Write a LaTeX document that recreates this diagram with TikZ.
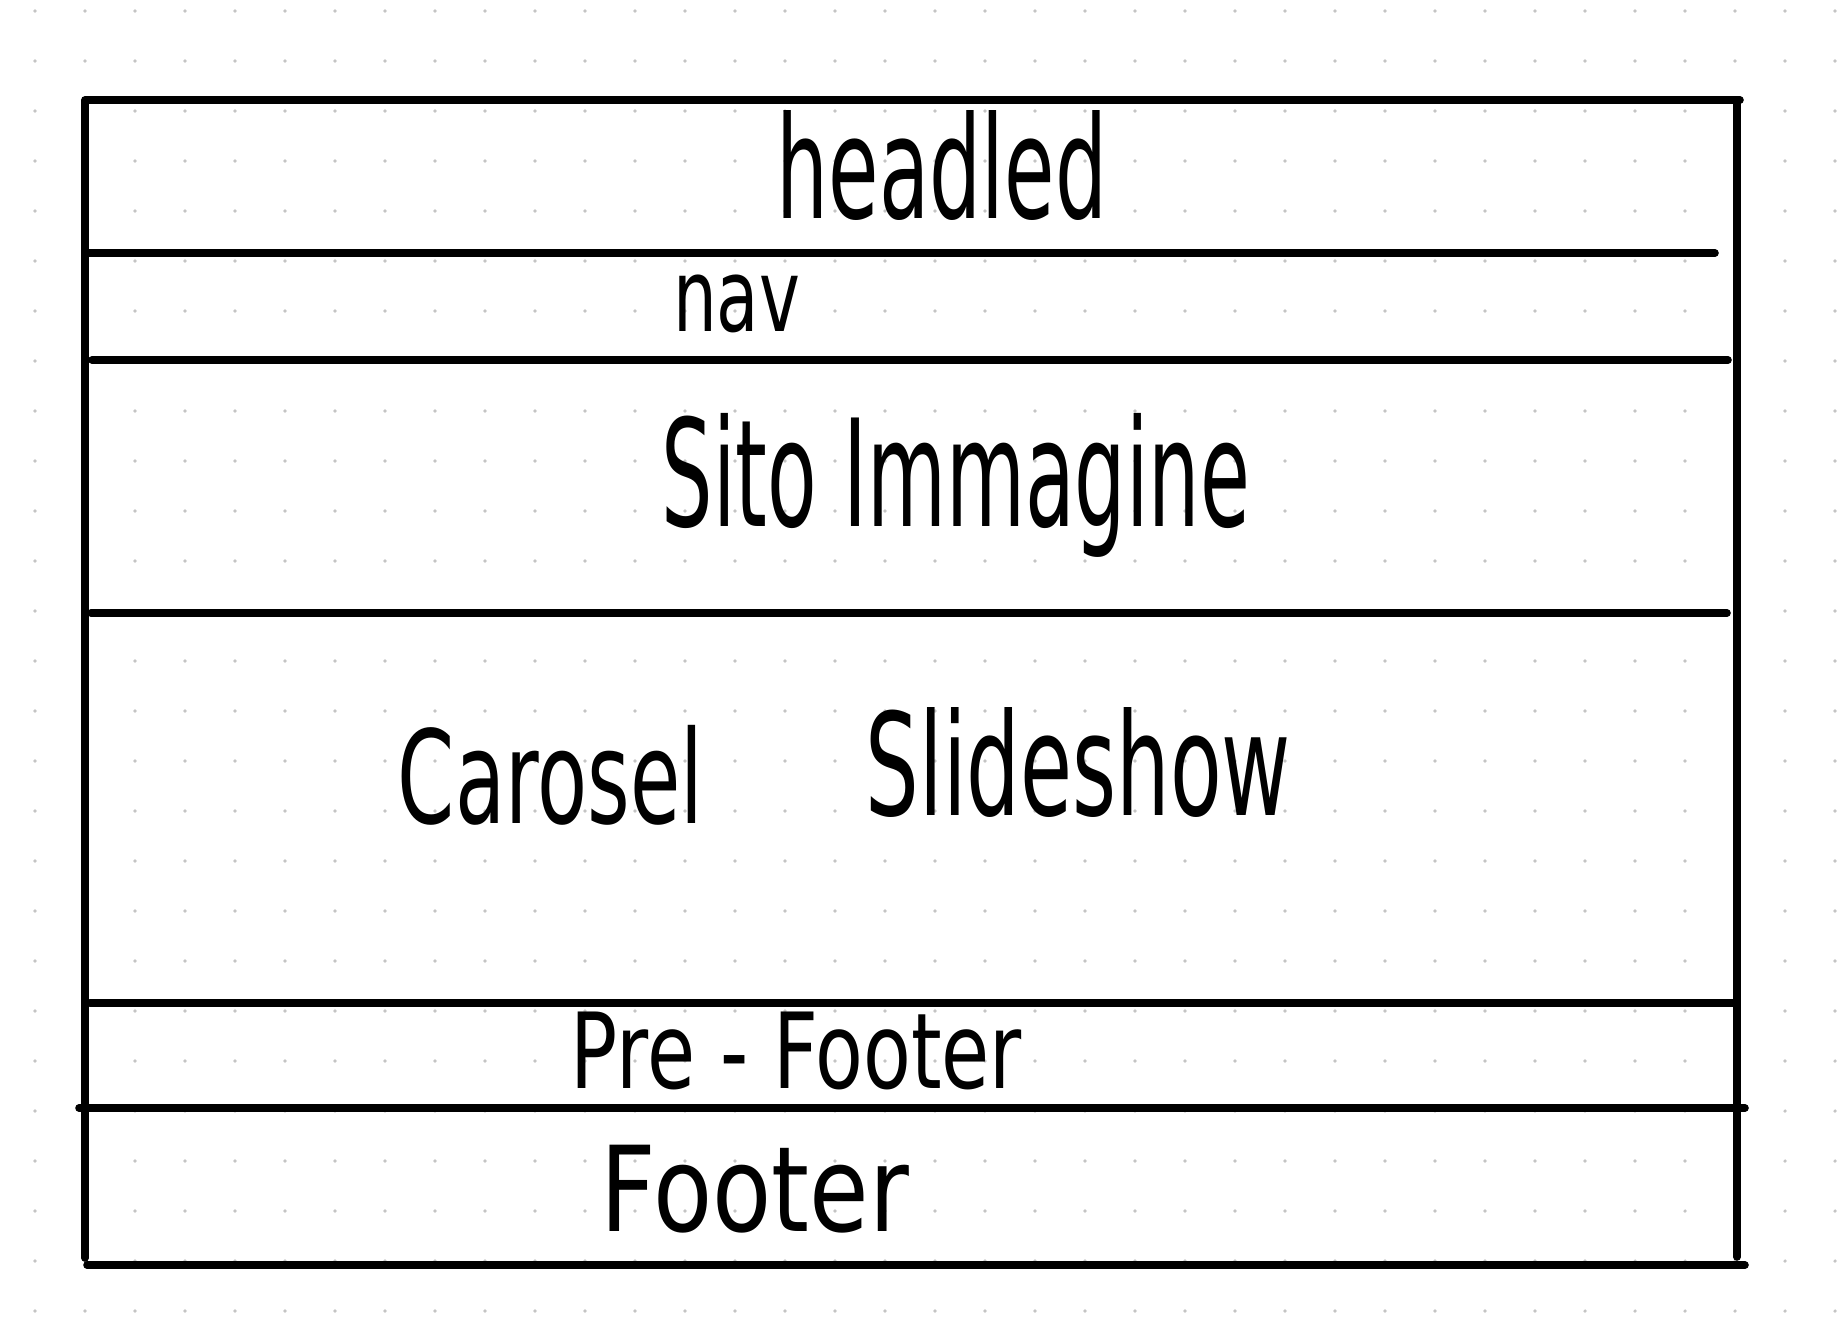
\documentclass[tikz,border=0pt]{standalone}
\usepackage{fontspec}
\setmainfont{DejaVu Sans}
\usepackage{graphicx}
\definecolor{dotc}{RGB}{196,196,196}
\begin{document}
\begin{tikzpicture}[x=0.5pt,y=-0.5pt,
  frame/.style={line width=3.8pt, line cap=round, line join=round},
  lbl/.style={inner sep=0pt, outer sep=0pt}]
\useasboundingbox (0,0) rectangle (1846,1319);
\fill[white] (0,0) rectangle (1846,1319);
% dotted paper
\foreach \i in {0,...,36}{\foreach \j in {0,...,26}{\fill[dotc] ({35+50*\i},{11+50*\j}) circle (1.8);}}
% outer frame
\draw[frame] (85,1258) -- (85,100) -- (1740,100);
\draw[frame] (1737,100) -- (1737,1257);
% section dividers
\draw[frame] (85,253) -- (1715,253);
\draw[frame] (92,360) -- (1728,360);
\draw[frame] (91,613) -- (1727,613);
\draw[frame] (90,1003) -- (1737,1003);
\draw[frame] (79,1108) -- (1745,1108);
\draw[frame] (87,1265) -- (1745,1265);
% labels
\node[lbl] (headled) at (942,165) {\resizebox*{165pt}{55pt}{headled}};
\node[lbl] (nav) at (736.5,304) {\resizebox*{63.5pt}{29pt}{nav}};
\node[lbl] (sito) at (956,485) {\resizebox*{294pt}{72pt}{Sito Immagine}};
\node[lbl] (carosel) at (550.5,775) {\resizebox*{152.5pt}{50pt}{Carosel}};
\node[lbl] (slideshow) at (1078.5,762) {\resizebox*{212.5pt}{55pt}{Slideshow}};
\node[lbl] (prefooter) at (796.5,1051) {\resizebox*{225.5pt}{39pt}{Pre - Footer}};
\node[lbl] (footer) at (755,1189) {\resizebox*{154pt}{44pt}{Footer}};
\end{tikzpicture}
\end{document}
